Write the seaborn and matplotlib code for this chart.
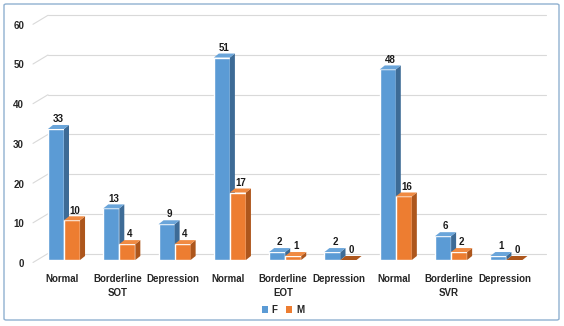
import matplotlib
matplotlib.use("Agg")
import matplotlib.pyplot as plt
import matplotlib.transforms as mtransforms
from matplotlib.patches import Polygon, FancyBboxPatch, Patch
import seaborn as sns
import pandas as pd

groups = ["SOT", "EOT", "SVR"]
statuses = ["Normal", "Borderline", "Depression"]
sexes = ["F", "M"]
f_values = [33, 13, 9, 51, 2, 2, 48, 6, 1]
m_values = [10, 4, 4, 17, 1, 0, 16, 2, 0]
y_ticks = [0, 10, 20, 30, 40, 50, 60]

rows = []
for gi, g in enumerate(groups):
    for si, s in enumerate(statuses):
        k = gi * 3 + si
        rows.append(dict(cat=f"{g}|{s}", status=s, group=g, sex="F", value=f_values[k]))
        rows.append(dict(cat=f"{g}|{s}", status=s, group=g, sex="M", value=m_values[k]))
df = pd.DataFrame(rows)

front = {"F": "#5B9BD5", "M": "#ED7D31"}
side = {"F": "#3D6B96", "M": "#AD561C"}
top = {"F": "#6AA5DA", "M": "#F08A42"}

sns.set_theme(style="white")
plt.rcParams['font.family'] = ['Liberation Sans', 'DejaVu Sans']

W, H = 564, 326
fig = plt.figure(figsize=(W / 100, H / 100), dpi=100)
fig.patch.set_facecolor("white")

# pixel geometry helpers
cx0, cstep = 64.0, 55.3       # px of category 0 centre, px per category
y0px, ppu = 260.0, 3.97       # px of value 0, px per unit
ax_left, ax_right = 33.0, 548.0
ylim_top = 62
ax = fig.add_axes([ax_left / W, (H - y0px) / H, (ax_right - ax_left) / W, ylim_top * ppu / H])

def px2x(px):
    return (px - cx0) / cstep

sns.barplot(data=df, x="cat", y="value", hue="sex", hue_order=sexes,
            palette=[front[s] for s in sexes], width=0.58, saturation=1,
            ax=ax, legend=False, errorbar=None, zorder=3)

ax.set_xlim(px2x(ax_left), px2x(ax_right))
ax.set_ylim(0, ylim_top)
for sp in ax.spines.values():
    sp.set_visible(False)
ax.set_xlabel("")
ax.set_ylabel("")
ax.grid(False)

# 3D-like back gridlines
gdx = 15 / cstep
gdy_back = 6.5 / ppu
gdy_front = -2.5 / ppu
xs = px2x(ax_left)
for v in y_ticks:
    ax.plot([xs, xs + gdx], [v + gdy_front, v + gdy_back], color="#D9D9D9", lw=0.8, zorder=1, clip_on=False)
    ax.plot([xs + gdx, px2x(546)], [v + gdy_back, v + gdy_back], color="#D9D9D9", lw=0.8, zorder=1, clip_on=False)

# 3D bar sides / tops
dx = 5 / cstep
dy = 4 / ppu
for ci, cont in enumerate(ax.containers):
    s = sexes[ci]
    z = 3 + ci
    for bar in cont:
        bar.set_zorder(z)
        x0, w, h = bar.get_x(), bar.get_width(), bar.get_height()
        ax.add_patch(Polygon([(x0 + w, 0), (x0 + w + dx, dy), (x0 + w + dx, h + dy), (x0 + w, h)],
                             closed=True, facecolor=side[s], edgecolor="none", zorder=z))
        ax.add_patch(Polygon([(x0, h), (x0 + dx, h + dy), (x0 + w + dx, h + dy), (x0 + w, h)],
                             closed=True, facecolor=top[s] if h > 0 else side[s], edgecolor="none", zorder=z))
        ax.text(x0 + w / 2 + dx / 2, h + dy + 0.2, f"{int(h)}", ha="center", va="bottom",
                fontsize=7, fontweight="bold", color="#1a1a1a", zorder=10)

ax.set_xticks(range(len(groups) * len(statuses)))
ax.set_xticklabels([s for g in groups for s in statuses], fontsize=7, fontweight="bold", color="#262626")
ax.set_yticks(y_ticks)
ax.set_yticklabels([str(v) for v in y_ticks], fontsize=7, fontweight="bold", color="#262626")
ax.tick_params(axis="x", length=0, pad=10)
ax.tick_params(axis="y", length=0, pad=5)
off = mtransforms.ScaledTranslation(-2 / 100, -3 / 100, fig.dpi_scale_trans)
for lab in ax.get_yticklabels():
    lab.set_transform(lab.get_transform() + off)
xoff = mtransforms.ScaledTranslation(-2 / 100, 0, fig.dpi_scale_trans)
for lab in ax.get_xticklabels():
    lab.set_transform(lab.get_transform() + xoff)

# group labels
gy = -(293 - y0px) / (ylim_top * ppu)
for gi, g in enumerate(groups):
    ax.text(gi * 3 + 1 - 2 / cstep, gy, g, transform=ax.get_xaxis_transform(),
            ha="center", va="center", fontsize=7, fontweight="bold", color="#262626")

# legend
handles = [Patch(facecolor=front[s], edgecolor="none", label=s) for s in sexes]
fig.legend(handles=handles, loc="center", bbox_to_anchor=(283 / W, 1 - 310 / H), ncol=2, frameon=False,
           prop={"weight": "bold", "size": 7}, handlelength=0.6, handleheight=0.6,
           handletextpad=0.4, columnspacing=0.9)

# outer frame
fig.patches.append(FancyBboxPatch((4 / W, (H - 320) / H), (559 - 4) / W, (320 - 4) / H,
                                  boxstyle="round,pad=0,rounding_size=0.004", transform=fig.transFigure,
                                  facecolor="none", edgecolor="#8FB0D0", lw=1.0))

fig.savefig("out.png", dpi=100)
